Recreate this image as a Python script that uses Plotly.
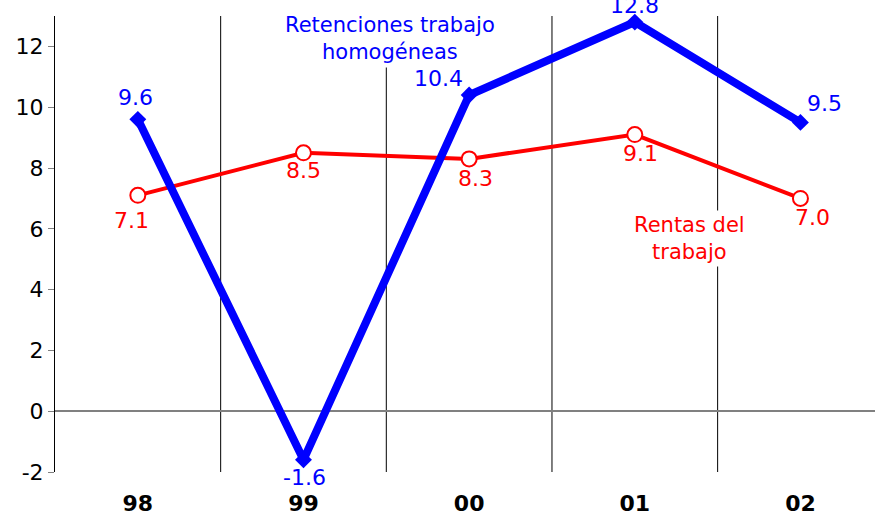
import plotly.graph_objects as go

categories = ["98", "99", "00", "01", "02"]
retenciones = [9.6, -1.6, 10.4, 12.8, 9.5]
rentas = [7.1, 8.5, 8.3, 9.1, 7.0]
y_ticks = [-2, 0, 2, 4, 6, 8, 10, 12]

# label offsets in pixels (dx, dy screen-down) -- style only
ret_off = [(-2, -22), (1, 18), (-31, -17), (0, -17), (24, -19)]
ren_off = [(-6, 25), (0, 18), (6, 20), (6, 19), (12, 19)]
y_ticktext = [str(v) for v in y_ticks]

FONT = "DejaVu Sans, Verdana, sans-serif"
xs = list(range(len(categories)))

fig = go.Figure()
fig.add_trace(go.Scatter(
    x=xs, y=rentas, mode="lines+markers",
    line=dict(color="#FF0000", width=4),
    marker=dict(symbol="circle", size=15, color="white", line=dict(color="#FF0000", width=2)),
    cliponaxis=False, showlegend=False, hoverinfo="skip",
))
fig.add_trace(go.Scatter(
    x=xs, y=retenciones, mode="lines+markers",
    line=dict(color="#0000FF", width=8),
    marker=dict(symbol="diamond", size=13, color="#0000FF"),
    cliponaxis=False, showlegend=False, hoverinfo="skip",
))

for xi, v, (dx, dy) in zip(xs, rentas, ren_off):
    fig.add_annotation(x=xi, y=v, xref="x", yref="y", text=f"{v:.1f}", showarrow=False,
                       xshift=dx, yshift=-dy, xanchor="center", yanchor="middle",
                       font=dict(family=FONT, size=22, color="#FF0000"), borderpad=0)
for xi, v, (dx, dy) in zip(xs, retenciones, ret_off):
    fig.add_annotation(x=xi, y=v, xref="x", yref="y", text=f"{v:.1f}", showarrow=False,
                       xshift=dx, yshift=-dy, xanchor="center", yanchor="middle",
                       font=dict(family=FONT, size=22, color="#0000FF"), borderpad=0)

# category separators
for b in [0.5, 1.5, 2.5, 3.5]:
    fig.add_shape(type="line", xref="x", yref="paper", x0=b, x1=b, y0=0, y1=1,
                  line=dict(color="black", width=1), layer="below")

fig.add_annotation(x=1.52, y=1.015, xref="x", yref="paper", yanchor="top",
                   text="Retenciones trabajo<br>homogéneas", showarrow=False,
                   font=dict(family=FONT, size=21, color="#0000FF"),
                   bgcolor="white", align="center", borderpad=3)
fig.add_annotation(x=3.33, y=6.62, xref="x", yref="y", yanchor="top",
                   text="Rentas del<br>trabajo", showarrow=False,
                   font=dict(family=FONT, size=21, color="#FF0000"),
                   bgcolor="white", align="center", borderpad=2)

fig.update_layout(
    width=875, height=515,
    margin=dict(l=55, r=0, t=16, b=43),
    paper_bgcolor="white", plot_bgcolor="white",
    hovermode=False,
    font=dict(family=FONT, size=22, color="black"),
    xaxis=dict(range=[-0.5, 4.45], tickmode="array", tickvals=xs, ticktext=categories,
               showgrid=False, zeroline=False, showline=False, ticks="",
               automargin=False, ticklabelstandoff=16,
               tickfont=dict(family=FONT, size=22, color="black", weight="bold")),
    yaxis=dict(range=[-2, 13], tickmode="array", tickvals=y_ticks, ticktext=y_ticktext,
               showgrid=False, zeroline=True, zerolinecolor="#808080", zerolinewidth=1.5,
               showline=True, linecolor="black", linewidth=1,
               ticks="outside", ticklen=6, tickcolor="#808080", automargin=False,
               tickfont=dict(family=FONT, size=22, color="black")),
)

fig.write_html("out.html", config={"displayModeBar": False},
               post_script="document.body.style.margin='0px';")
